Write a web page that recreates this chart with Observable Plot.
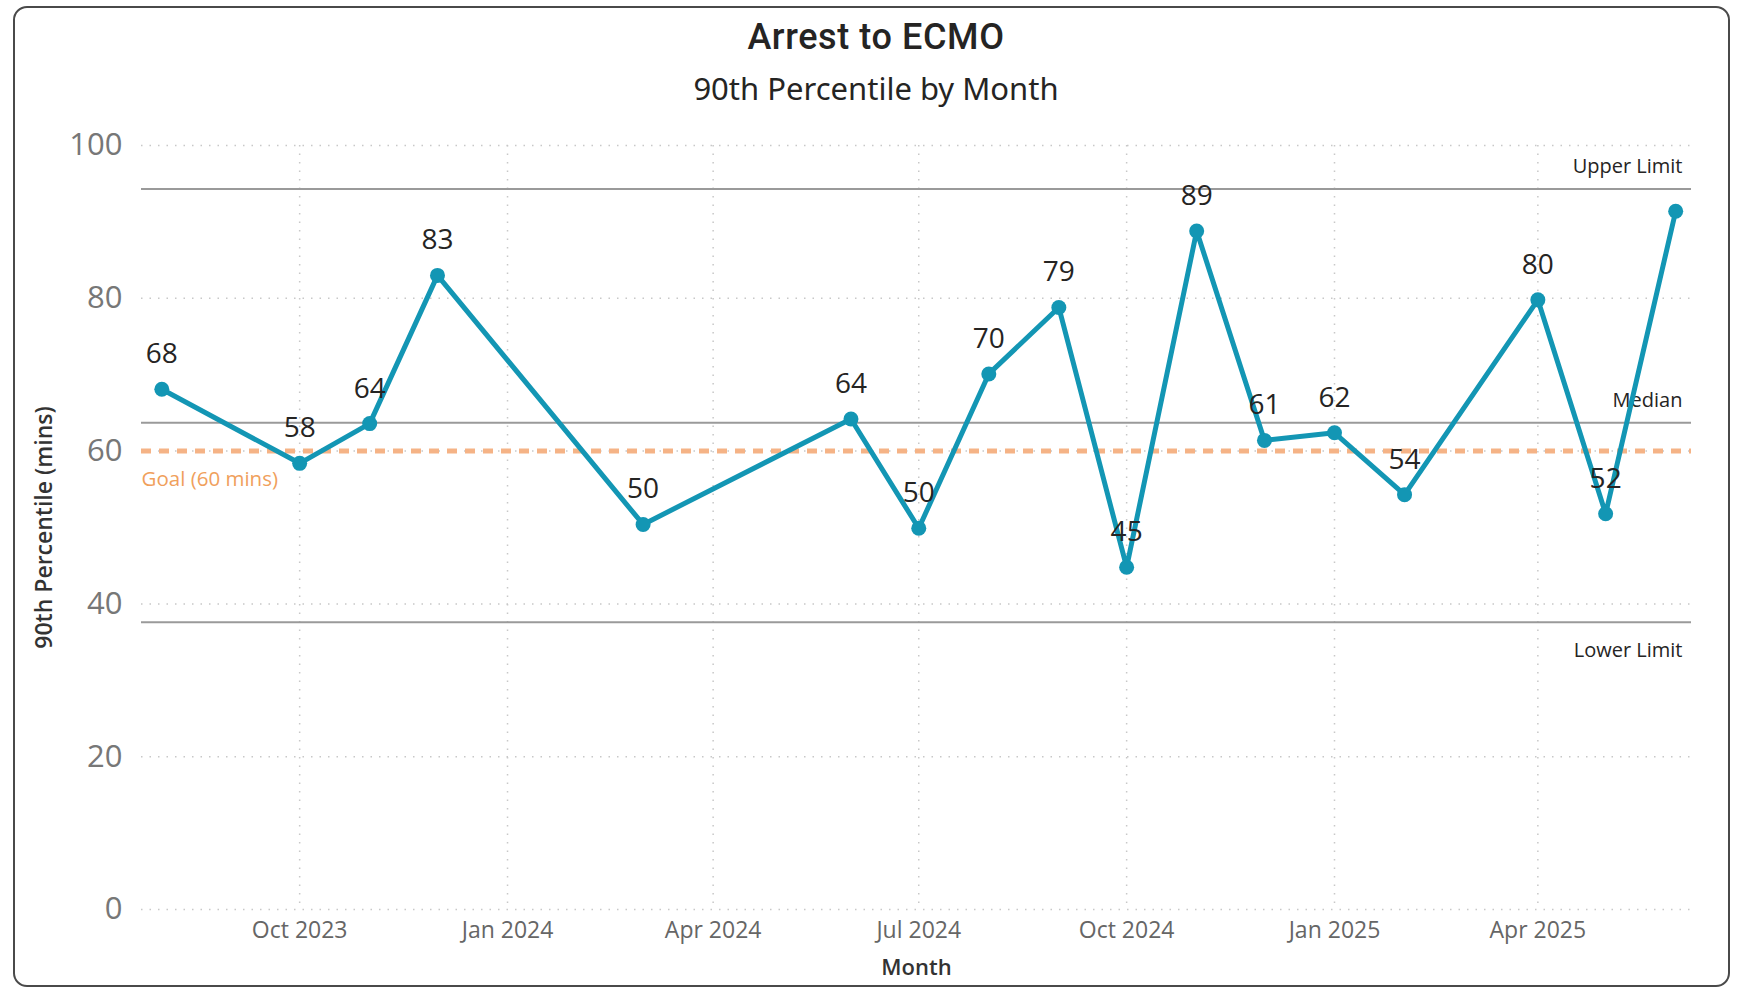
<!DOCTYPE html>
<html>
<head>
<meta charset="utf-8">
<script src="https://cdn.jsdelivr.net/npm/d3@7"></script>
<script src="https://cdn.jsdelivr.net/npm/@observablehq/plot@0.6"></script>
<style>
  html, body { margin: 0; padding: 0; background: #fff; }
  body { width: 1739px; height: 991px; position: relative; overflow: hidden; font-family: "Open Sans", "Noto Sans", sans-serif; }
  #card { position: absolute; left: 13px; top: 6px; width: 1717px; height: 981px; box-sizing: border-box; border: 2px solid #4a4a4a; border-radius: 14px; }
  #title { position: absolute; left: 576px; width: 600px; top: 14px; height: 46px; line-height: 46px; text-align: center; font-family: "Roboto", sans-serif; font-weight: 500; font-size: 36px; color: #252423; letter-spacing: 0.6px; }
  #subtitle { position: absolute; left: 576px; width: 600px; top: 67px; height: 42px; line-height: 42px; text-align: center; font-family: "Noto Sans", sans-serif; font-size: 31px; color: #252423; }
  #chart { position: absolute; left: 0; top: 110px; }
</style>
</head>
<body>
<div id="card"></div>
<div id="title">Arrest to ECMO</div>
<div id="subtitle">90th Percentile by Month</div>
<div id="chart"></div>
<script>
// ---- data ----
const months = ["2023-08","2023-10","2023-11","2023-12","2024-03","2024-06","2024-07","2024-08","2024-09","2024-10","2024-11","2024-12","2025-01","2025-02","2025-04","2025-05","2025-06"];
const values = [68.1, 58.4, 63.6, 83.0, 50.4, 64.2, 49.9, 70.1, 78.8, 44.8, 88.8, 61.4, 62.4, 54.3, 79.8, 51.8, 91.4];
const valueLabels = ["68","58","64","83","50","64","50","70","79","45","89","61","62","54","80","52",""];
const xTickLabels = ["Oct 2023","Jan 2024","Apr 2024","Jul 2024","Oct 2024","Jan 2025","Apr 2025"];
const yTicks = [0, 20, 40, 60, 80, 100];
const xDomain = ["2023-07-23","2025-06-08"];
const limitNames = ["Upper Limit","Median","Lower Limit"];
const limitValues = [94.3, 63.7, 37.6];
const goalValue = 60;
const goalLabel = "Goal (60 mins)";

// ---- build ----
const parseMonth = d3.utcParse("%Y-%m");
const parseDay = d3.utcParse("%Y-%m-%d");
const parseTick = d3.utcParse("%b %Y");
const data = months.map((m, i) => ({date: parseMonth(m), value: values[i], label: valueLabels[i]}));
const limits = limitNames.map((n, i) => ({name: n, value: limitValues[i]}));
const xTicks = xTickLabels.map(parseTick);

const lineColor = "#1396B4";
const font = "'Open Sans', 'Noto Sans', sans-serif";

const chart = Plot.plot({
  width: 1739,
  height: 875,
  marginLeft: 141,
  marginRight: 48,
  marginTop: 35,
  marginBottom: 76,
  style: {fontFamily: font, background: "transparent", overflow: "visible"},
  x: {type: "utc", domain: xDomain.map(parseDay)},
  y: {domain: [0, 100]},
  marks: [
    Plot.gridY(yTicks, {stroke: "#c8c8c8", strokeOpacity: 1, strokeDasharray: "1.5,7", strokeWidth: 1.5}),
    Plot.gridX(xTicks, {stroke: "#c8c8c8", strokeOpacity: 1, strokeDasharray: "1.5,7", strokeWidth: 1.5}),
    Plot.ruleY([goalValue], {stroke: "#F5B386", strokeWidth: 5, strokeDasharray: "10,8"}),
    Plot.ruleY(limits, {y: "value", stroke: "#9a9a9a", strokeWidth: 2}),
    Plot.text(limits.filter(d => d.name !== "Lower Limit"), {y: "value", text: "name", frameAnchor: "right", textAnchor: "end", dx: -9, dy: -22, fontSize: 20, fill: "#252423"}),
    Plot.text(limits.filter(d => d.name === "Lower Limit"), {y: "value", text: "name", frameAnchor: "right", textAnchor: "end", dx: -9, dy: 28, fontSize: 20, fill: "#252423"}),
    Plot.text([goalValue], {y: d => d, text: () => goalLabel, frameAnchor: "left", textAnchor: "start", dy: 28, fontSize: 20.5, fill: "#F0A05C"}),
    Plot.line(data, {x: "date", y: "value", stroke: lineColor, strokeWidth: 5, curve: "linear"}),
    Plot.dot(data, {x: "date", y: "value", r: 7.5, fill: lineColor, stroke: "none"}),
    Plot.text(data, {x: "date", y: "value", text: "label", dy: -35, fontSize: 28, fill: "#252423"}),
    Plot.axisY(yTicks, {tickSize: 0, tickPadding: 19, fontSize: 31, fill: "#777", label: null}),
    Plot.axisX(xTicks, {tickSize: 0, tickPadding: 12, fontSize: 23, fill: "#666", label: null, tickFormat: d3.utcFormat("%b %Y")}),
    Plot.text(["90th Percentile (mins)"], {frameAnchor: "left", textAnchor: "middle", rotate: -90, dx: -97, fontSize: 23, fontWeight: 600, fill: "#333"}),
    Plot.text(["Month"], {frameAnchor: "bottom", lineAnchor: "middle", dy: 58, fontSize: 22, fontWeight: 600, fill: "#333"})
  ]
});
document.getElementById("chart").appendChild(chart);
</script>
</body>
</html>
